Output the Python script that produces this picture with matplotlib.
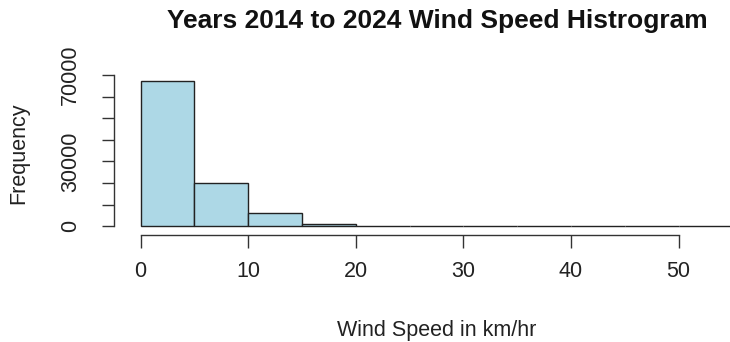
import matplotlib
matplotlib.use("Agg")
import matplotlib.pyplot as plt

# Data: 5 km/hr bins
bin_edges = [0, 5, 10, 15, 20, 25, 30, 35, 40, 45, 50, 55]
counts = [67300, 20000, 6000, 900, 200, 40, 15, 8, 4, 2, 1]
x_ticks = [0, 10, 20, 30, 40, 50]
y_ticks = [0, 10000, 20000, 30000, 40000, 50000, 60000, 70000]
y_tick_labels = ["0", "", "", "30000", "", "", "", "70000"]
title = "Years 2014 to 2024 Wind Speed Histrogram"
xlabel = "Wind Speed in km/hr"
ylabel = "Frequency"

plt.rcParams['font.family'] = ['Liberation Sans', 'DejaVu Sans']

fig = plt.figure(figsize=(7.3, 3.42), dpi=100)
L, R, B, T = 117/730, 756/730, 1-232/342, 1-75/342
ax = fig.add_axes([L, B, R-L, T-B])

lefts = bin_edges[:-1]
widths = [bin_edges[i+1]-bin_edges[i] for i in range(len(lefts))]
ax.bar(lefts, counts, width=widths, align='edge', color='#ADD8E6',
       edgecolor='#222222', linewidth=1.0)

xmax = bin_edges[-1]
ax.set_xlim(-0.04*xmax, 1.04*xmax)
ymax = max(counts)
ax.set_ylim(-0.04*ymax, 1.04*ymax)

for s in ['top', 'right']:
    ax.spines[s].set_visible(False)
ax.spines['left'].set_bounds(0, 70000)
ax.spines['bottom'].set_bounds(0, 50)
ax.spines['left'].set_position(('outward', 2))
ax.spines['bottom'].set_position(('outward', 2))
for s in ['left', 'bottom']:
    ax.spines[s].set_color('#333333')
    ax.spines[s].set_linewidth(1.0)

ax.set_xticks(x_ticks)
ax.set_xticklabels([str(v) for v in x_ticks])
ax.set_yticks(y_ticks)
ax.set_yticklabels(y_tick_labels, rotation=90, va='center')
ax.tick_params(axis='both', length=9, width=1.0, color='#333333',
               labelsize=15.5, labelcolor='#222222')
ax.tick_params(axis='x', pad=10)
ax.tick_params(axis='y', pad=15)

ax.set_xlabel(xlabel, fontsize=15.5, color='#222222', labelpad=27)
ax.set_ylabel(ylabel, fontsize=15.5, color='#222222', labelpad=22)
fig.text(437/730, 1-21/342, title, ha='center', va='center',
         fontsize=19, fontweight='bold', color='#111111')

fig.savefig("out.png", dpi=100)
